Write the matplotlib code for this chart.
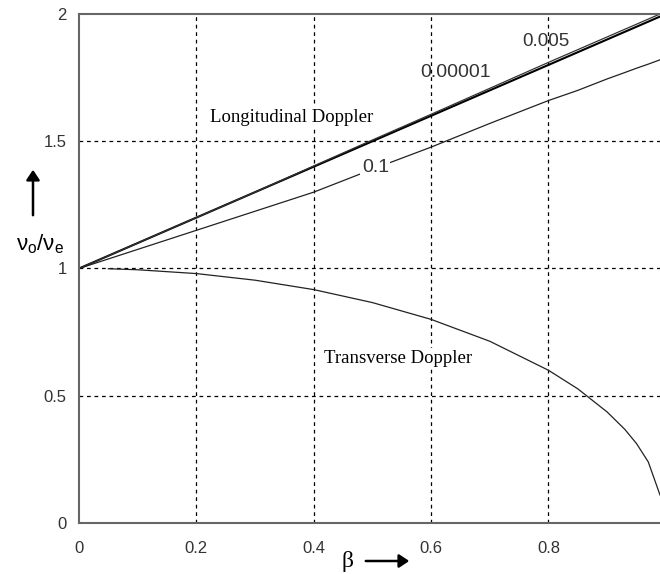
import matplotlib
matplotlib.use("Agg")
import matplotlib.pyplot as plt
import numpy as np

# beta values
beta = [0.0, 0.1, 0.2, 0.3, 0.4, 0.5, 0.6, 0.7, 0.8, 0.85, 0.9, 0.93, 0.95, 0.97, 0.99]

# longitudinal doppler, three parameter values
long_00001 = [1.0, 1.10, 1.20, 1.30, 1.40, 1.50, 1.60, 1.70, 1.80, 1.85, 1.90, 1.93, 1.95, 1.97, 1.99]
long_005 = [1.0, 1.10, 1.20, 1.30, 1.403, 1.505, 1.606, 1.708, 1.81, 1.86, 1.91, 1.94, 1.96, 1.98, 2.0]
long_01 = [1.0, 1.075, 1.15, 1.225, 1.30, 1.39, 1.477, 1.57, 1.66, 1.70, 1.745, 1.77, 1.787, 1.803, 1.82]

# transverse doppler (curve starts a little right of zero)
beta_t = [0.05, 0.1, 0.2, 0.3, 0.4, 0.5, 0.6, 0.7, 0.8, 0.85, 0.9, 0.93, 0.95, 0.97, 0.99]
transverse = [0.999, 0.995, 0.98, 0.954, 0.917, 0.866, 0.80, 0.714, 0.60, 0.527, 0.436, 0.368, 0.312, 0.24, 0.11]

xticks = [0, 0.2, 0.4, 0.6, 0.8]
xticklabels = ["0", "0.2", "0.4", "0.6", "0.8"]
yticks = [0, 0.5, 1, 1.5, 2]
yticklabels = ["0", "0.5", "1", "1.5", "2"]

plt.rcParams['font.family'] = ['Liberation Sans', 'DejaVu Sans']

fig = plt.figure(figsize=(6.6, 5.74), dpi=100)
ax = fig.add_axes([0.1197, 0.0889, 0.8803, 0.8867])

ax.plot(beta, long_00001, color='black', lw=1.5)
ax.plot(beta, long_005, color='#333333', lw=0.9)
ax.plot(beta, long_01, color='#222222', lw=0.9)
ax.plot(beta_t, transverse, color='#222222', lw=0.9)

ax.set_xlim(0, 0.99)
ax.set_ylim(0, 2)
ax.set_xticks(xticks)
ax.set_xticklabels(xticklabels)
ax.set_yticks(yticks)
ax.set_yticklabels(yticklabels)
ax.tick_params(length=0, labelsize=12, labelcolor='#333333')
ax.tick_params(axis='x', pad=13)
ax.tick_params(axis='y', pad=9)

for x in [0.2, 0.4, 0.6, 0.8]:
    ax.axvline(x, color='black', lw=0.9, ls=(0, (3, 3)), zorder=0)
for y in [0.5, 1.0, 1.5]:
    ax.axhline(y, color='black', lw=0.9, ls=(0, (3, 3)), zorder=0)

for s in ['left', 'bottom', 'top']:
    ax.spines[s].set_color('#666666')
    ax.spines[s].set_linewidth(1.5)
ax.spines['right'].set_visible(False)

serif = ['Liberation Serif', 'DejaVu Serif']
white = dict(facecolor='white', edgecolor='none', pad=1)
ax.text(0.363, 1.595, "Longitudinal Doppler", family=serif, fontsize=13.5,
        ha='center', va='center', bbox=white, zorder=5)
ax.text(0.544, 0.648, "Transverse Doppler", family=serif, fontsize=13.5,
        ha='center', va='center', bbox=white, zorder=5)
ax.text(0.505, 1.395, "0.1", fontsize=14, color='#333333', ha='center', va='center',
        bbox=white, zorder=5)
ax.text(0.795, 1.89, "0.005", fontsize=13.5, color='#333333', ha='center', va='center')
ax.text(0.641, 1.772, "0.00001", fontsize=14, color='#333333', ha='center', va='center')

# axis labels with arrows
fig.text(40 / 660, 1 - 244 / 574, r"$\mathregular{ν_o/ν_e}$", fontsize=16, ha='center', va='center')
fig.add_artist(matplotlib.patches.FancyArrowPatch(
    (33 / 660, 1 - 218 / 574), (33 / 660, 1 - 167 / 574), transform=fig.transFigure,
    arrowstyle='-|>,head_length=6,head_width=4', color='black', lw=1.8))
fig.text(348 / 660, 1 - 561 / 574, "β", family=serif, fontsize=17, ha='center', va='center')
fig.add_artist(matplotlib.patches.FancyArrowPatch(
    (363 / 660, 1 - 561 / 574), (412 / 660, 1 - 561 / 574), transform=fig.transFigure,
    arrowstyle='-|>,head_length=6,head_width=4', color='black', lw=1.8))

fig.savefig("out.png", dpi=100)
